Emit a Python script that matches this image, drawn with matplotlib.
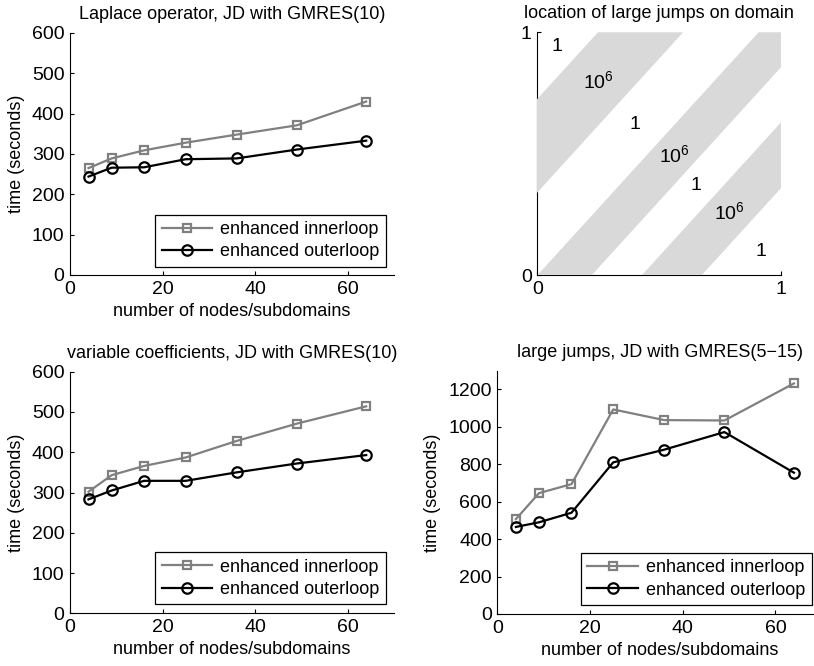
#!/usr/bin/env python3
"""
Timing results for the JD runs, four panels in one figure.
"""

import matplotlib
matplotlib.use('Agg')
import matplotlib.pyplot as plt
from matplotlib.patches import Polygon

# Data
nodes = [4, 9, 16, 25, 36, 49, 64]

laplace_inner = [265, 289, 309, 328, 348, 371, 430]
laplace_outer = [244, 266, 267, 287, 289, 311, 333]

varcoef_inner = [302, 343, 366, 387, 428, 471, 514]
varcoef_outer = [283, 305, 329, 329, 350, 372, 393]

jumps_inner = [507, 646, 694, 1093, 1036, 1034, 1232]
jumps_outer = [465, 490, 541, 810, 878, 972, 755]

legend_labels = ['enhanced innerloop', 'enhanced outerloop']

# domain sketch: bands y = slope*(x - a), given by x-intercepts of both edges
band_slope = 1.1
band_edges = [(-0.66, -0.31), (0.0, 0.223), (0.429, 0.675)]
region_labels = ['1', '$\\mathregular{10^6}$', '1', '$\\mathregular{10^6}$',
                 '1', '$\\mathregular{10^6}$', '1']
region_pos = [(0.08, 0.94), (0.25, 0.80), (0.40, 0.62), (0.565, 0.495),
              (0.65, 0.37), (0.79, 0.26), (0.92, 0.097)]

GRAY = '#808080'
BAND = '#d9d9d9'

plt.rcParams['font.family'] = 'Liberation Sans'
plt.rcParams['mathtext.fontset'] = 'custom'
plt.rcParams['mathtext.rm'] = 'Liberation Sans'
plt.rcParams['font.size'] = 13
plt.rcParams['axes.linewidth'] = 0.8
plt.rcParams['xtick.direction'] = 'in'
plt.rcParams['ytick.direction'] = 'in'
plt.rcParams['xtick.major.size'] = 3
plt.rcParams['ytick.major.size'] = 3


def style_axes(ax):
    ax.spines['top'].set_visible(False)
    ax.spines['right'].set_visible(False)
    ax.tick_params(labelsize=14, pad=4)


def timing_panel(fig, rect, inner, outer, title, ylim, yticks, legend_anchor):
    ax = fig.add_axes(rect)
    ax.plot(nodes, inner, color=GRAY, lw=1.6, marker='s', ms=6,
            mfc='none', mec=GRAY, mew=1.6, label=legend_labels[0])
    ax.plot(nodes, outer, color='black', lw=1.6, marker='o', ms=7.5,
            mfc='none', mec='black', mew=1.6, label=legend_labels[1])
    ax.set_xlim(0, 70)
    ax.set_xticks([0, 20, 40, 60])
    ax.set_ylim(*ylim)
    ax.set_yticks(yticks)
    ax.set_xlabel('number of nodes/subdomains', fontsize=13, labelpad=4)
    ax.set_ylabel('time (seconds)', fontsize=13, labelpad=5)
    ax.set_title(title, fontsize=13, pad=10)
    style_axes(ax)
    leg = ax.legend(loc='lower right', bbox_to_anchor=legend_anchor,
                    borderaxespad=0, fancybox=False, framealpha=1,
                    edgecolor='black', fontsize=13, handlelength=2.8,
                    handletextpad=0.45, labelspacing=0.3, borderpad=0.35)
    leg.get_frame().set_linewidth(0.9)
    return ax


def domain_panel(fig, rect):
    ax = fig.add_axes(rect)
    for a1, a2 in band_edges:
        verts = [(a1, 0), (a1 + 1 / band_slope, 1),
                 (a2 + 1 / band_slope, 1), (a2, 0)]
        ax.add_patch(Polygon(verts, closed=True, facecolor=BAND,
                             edgecolor='none', zorder=3))
    for txt, (x, y) in zip(region_labels, region_pos):
        ax.text(x, y, txt, ha='center', va='center', fontsize=14, zorder=4)
    ax.set_xlim(0, 1)
    ax.set_ylim(0, 1)
    ax.set_xticks([0, 1])
    ax.set_yticks([0, 1])
    ax.set_title('location of large jumps on domain', fontsize=13, pad=10)
    style_axes(ax)
    return ax


fig = plt.figure(figsize=(8.14, 6.66), dpi=100)

timing_panel(fig, [0.0860, 0.5871, 0.3980, 0.3634],
             laplace_inner, laplace_outer,
             'Laplace operator, JD with GMRES(10)',
             (0, 600), range(0, 601, 100), (0.975, 0.034))

domain_panel(fig, [0.6601, 0.5866, 0.2990, 0.3649])

timing_panel(fig, [0.0860, 0.0791, 0.3980, 0.3628],
             varcoef_inner, varcoef_outer,
             'variable coefficients, JD with GMRES(10)',
             (0, 600), range(0, 601, 100), (0.975, 0.037))

timing_panel(fig, [0.6110, 0.0781, 0.3985, 0.3653],
             jumps_inner, jumps_outer,
             'large jumps, JD with GMRES(5\u221215)',
             (0, 1300), range(0, 1201, 200), (0.969, 0.037))

fig.savefig('out.png', dpi=100, facecolor='white')
